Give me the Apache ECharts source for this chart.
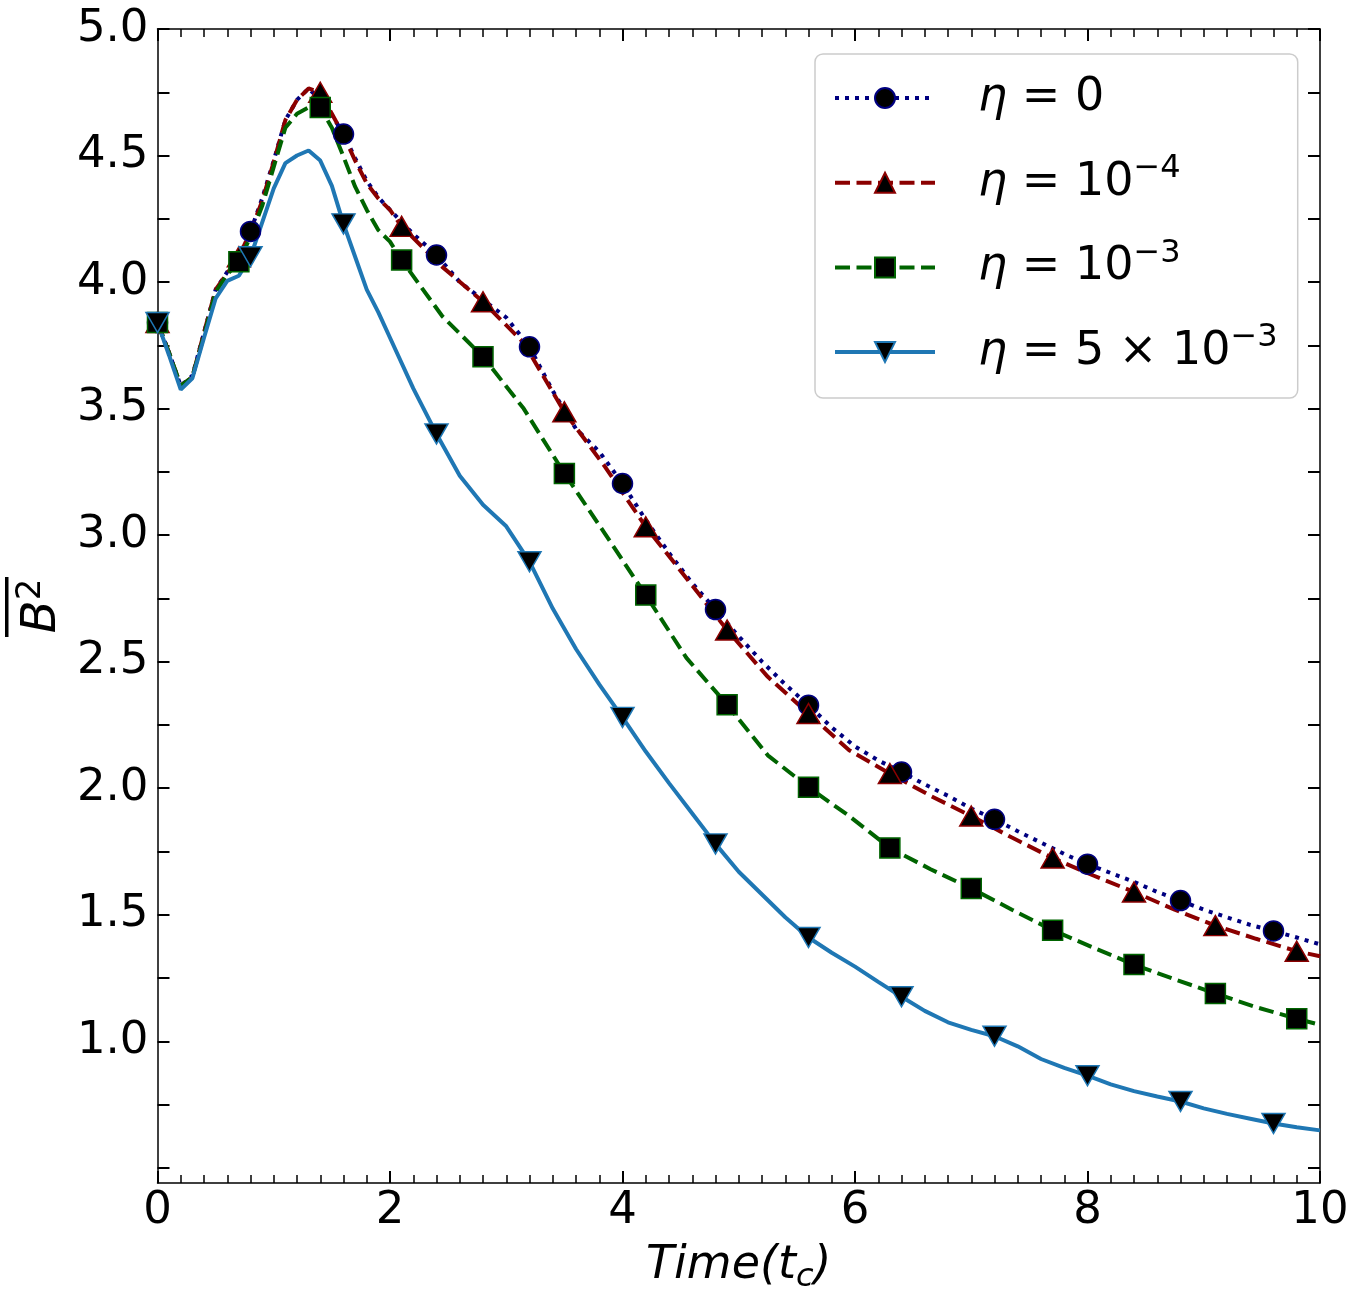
<!DOCTYPE html>
<html>
<head>
<meta charset="utf-8">
<script src="https://cdn.jsdelivr.net/npm/echarts@6/dist/echarts.min.js"></script>
<style>
  html, body { margin: 0; padding: 0; background: #fff; }
  #chart { width: 1360px; height: 1299px; }
</style>
</head>
<body>
<div id="chart"></div>
<script>
// sampling times (in t_c) - grid A for eta=0 and eta=5e-3, grid B for the other two
const timesA = [0, 0.1, 0.2, 0.3, 0.4, 0.5, 0.6, 0.7, 0.8, 0.9, 1.0, 1.1, 1.2, 1.3, 1.4, 1.5, 1.6, 1.7, 1.8, 1.9, 2.0,
  2.2, 2.4, 2.6, 2.8, 3.0, 3.2, 3.4, 3.6, 3.8, 4.0, 4.2, 4.4, 4.6, 4.8, 5.0, 5.2, 5.4, 5.6, 5.8, 6.0,
  6.2, 6.4, 6.6, 6.8, 7.0, 7.2, 7.4, 7.6, 7.8, 8.0, 8.2, 8.4, 8.6, 8.8, 9.0, 9.2, 9.4, 9.6, 9.8, 10.0];
const timesB = [0, 0.1, 0.2, 0.3, 0.4, 0.5, 0.6, 0.7, 0.8, 0.9, 1.0, 1.1, 1.2, 1.3, 1.4, 1.5, 1.6, 1.7, 1.8, 1.9, 2.0, 2.1,
  2.45, 2.8, 3.15, 3.5, 3.85, 4.2, 4.55, 4.9, 5.25, 5.6, 5.95, 6.3, 6.65, 7.0, 7.35, 7.7, 8.05, 8.4, 8.75, 9.1, 9.45, 9.8,
  10.0];

// times where a marker is drawn
const markersA = [0, 0.8, 1.6, 2.4, 3.2, 4.0, 4.8, 5.6, 6.4, 7.2, 8.0, 8.8, 9.6];
const markersB = [0, 0.7, 1.4, 2.1, 2.8, 3.5, 4.2, 4.9, 5.6, 6.3, 7.0, 7.7, 8.4, 9.1, 9.8];

// mean B^2
const eta0 = [3.84, 3.72, 3.59, 3.63, 3.80, 3.97, 4.04, 4.10, 4.20, 4.33, 4.48, 4.64, 4.72, 4.765, 4.72, 4.66, 4.585, 4.49, 4.40, 4.335, 4.285,
  4.19, 4.107, 4.00, 3.93, 3.86, 3.744, 3.57, 3.42, 3.33, 3.204, 3.06, 2.93, 2.81, 2.706, 2.60, 2.50, 2.41, 2.328, 2.24, 2.165,
  2.11, 2.064, 2.015, 1.97, 1.92, 1.877, 1.83, 1.785, 1.74, 1.70, 1.665, 1.63, 1.59, 1.556, 1.52, 1.49, 1.46, 1.436, 1.41, 1.383];
const eta1e4 = [3.84, 3.72, 3.59, 3.625, 3.80, 3.97, 4.035, 4.10, 4.20, 4.32, 4.475, 4.64, 4.72, 4.765, 4.75, 4.665, 4.58, 4.48, 4.39, 4.33, 4.285, 4.22,
  4.06, 3.922, 3.76, 3.487, 3.27, 3.033, 2.83, 2.625, 2.44, 2.295, 2.15, 2.058, 1.97, 1.89, 1.805, 1.724, 1.655, 1.59, 1.52, 1.457, 1.405, 1.356,
  1.336];
const eta1e3 = [3.84, 3.72, 3.59, 3.625, 3.79, 3.96, 4.03, 4.08, 4.18, 4.30, 4.455, 4.61, 4.665, 4.69, 4.69, 4.61, 4.495, 4.377, 4.285, 4.205, 4.16, 4.087,
  3.865, 3.705, 3.50, 3.244, 3.005, 2.763, 2.515, 2.33, 2.13, 2.004, 1.89, 1.764, 1.68, 1.604, 1.52, 1.439, 1.37, 1.303, 1.245, 1.189, 1.135, 1.089,
  1.065];
const eta5e3 = [3.84, 3.71, 3.575, 3.62, 3.78, 3.935, 4.005, 4.025, 4.10, 4.235, 4.37, 4.47, 4.50, 4.52, 4.48, 4.38, 4.23, 4.10, 3.97, 3.88, 3.78,
  3.58, 3.40, 3.235, 3.12, 3.035, 2.895, 2.71, 2.55, 2.41, 2.28, 2.145, 2.02, 1.90, 1.78, 1.67, 1.58, 1.49, 1.41, 1.35, 1.295,
  1.235, 1.176, 1.12, 1.075, 1.045, 1.02, 0.98, 0.93, 0.895, 0.864, 0.83, 0.803, 0.782, 0.762, 0.735, 0.713, 0.694, 0.675, 0.66, 0.648];

const seriesNames = ['η = 0', 'η = 10⁻⁴', 'η = 10⁻³', 'η = 5 × 10⁻³'];
const legendLabels = [
  '{g|}{i|η}{n| = 0}',
  '{g|}{i|η}{n| = 10}{s|−4}',
  '{g|}{i|η}{n| = 10}{s|−3}',
  '{g|}{i|η}{n| = 5 × 10}{s|−3}'
];

// y ticks and labels
const yTickValues = [0.5, 0.75, 1.0, 1.25, 1.5, 1.75, 2.0, 2.25, 2.5, 2.75, 3.0, 3.25, 3.5, 3.75, 4.0, 4.25, 4.5, 4.75, 5.0];
const yLabelValues = [1.0, 1.5, 2.0, 2.5, 3.0, 3.5, 4.0, 4.5, 5.0];

const FONT = 'DejaVu Sans';

function buildData(times, values, markers) {
  return times.map((t, i) => {
    const hasMarker = markers.some(m => Math.abs(m - t) < 1e-6);
    const item = { value: [t, values[i]] };
    if (!hasMarker) item.symbol = 'none';
    return item;
  });
}

const chart = echarts.init(document.getElementById('chart'));

const axisLineStyle = { color: '#000', width: 1.5 };
const tickStyle = { color: '#000', width: 2 };

const lineStyles = [
  { color: '#000080', width: 4, type: [4, 6], cap: 'butt' },
  { color: '#8b0000', width: 4, type: [15, 6.5], cap: 'butt' },
  { color: '#006400', width: 4, type: [15, 6.5], cap: 'butt' },
  { color: '#1f77b4', width: 4, type: 'solid' }
];

const xBase = {
  type: 'value', min: 0, max: 10, interval: 2,
  axisLine: { show: true, onZero: false, lineStyle: axisLineStyle },
  axisTick: { show: true, inside: true, length: 12, lineStyle: tickStyle },
  minorTick: { show: true, splitNumber: 10, length: 8, lineStyle: { color: '#000', width: 1.5 } },
  splitLine: { show: false },
  minorSplitLine: { show: false }
};
const yBase = {
  type: 'value', min: 0.44, max: 5.0,
  axisLine: { show: true, onZero: false, lineStyle: axisLineStyle },
  axisTick: { show: true, inside: true, length: 12, lineStyle: tickStyle, customValues: yTickValues },
  splitLine: { show: false }
};

const option = {
  animation: false,
  backgroundColor: '#fff',
  grid: { left: 157.5, right: 40, top: 29, bottom: 116 },
  xAxis: [
    Object.assign({}, xBase, {
      position: 'bottom',
      axisLabel: { fontFamily: FONT, fontSize: 45, color: '#000', margin: 6 },
      name: '{i|Time(t}{s|c}{i|)}',
      nameLocation: 'middle',
      nameGap: 55,
      nameTextStyle: {
        rich: {
          i: { fontFamily: FONT, fontStyle: 'italic', fontSize: 46, color: '#000', lineHeight: 56 },
          s: { fontFamily: FONT, fontStyle: 'italic', fontSize: 32, color: '#000', lineHeight: 50, verticalAlign: 'bottom' }
        }
      }
    }),
    Object.assign({}, xBase, { position: 'top', axisLabel: { show: false } })
  ],
  yAxis: [
    Object.assign({}, yBase, {
      position: 'left',
      axisLabel: {
        customValues: yLabelValues,
        formatter: v => v.toFixed(1),
        fontFamily: FONT, fontSize: 45, color: '#000', margin: 9
      },
      name: '{b|B}{s|2}',
      nameLocation: 'middle',
      nameRotate: 90,
      nameGap: 84,
      nameTextStyle: {
        rich: {
          b: { fontFamily: FONT, fontStyle: 'italic', fontSize: 48, color: '#000', lineHeight: 56 },
          s: { fontFamily: FONT, fontSize: 34, color: '#000', lineHeight: 36, verticalAlign: 'top' }
        }
      }
    }),
    Object.assign({}, yBase, { position: 'right', axisLabel: { show: false } })
  ],
  legend: {
    orient: 'vertical',
    left: 815, top: 54,
    padding: [21, 20, 23, 18],
    itemWidth: 100, itemHeight: 25, itemGap: 31.7,
    backgroundColor: 'rgba(255,255,255,0.8)',
    borderColor: '#cccccc', borderWidth: 1.5, borderRadius: 8,
    selectedMode: false,
    data: seriesNames.map((name, i) => ({ name: name, lineStyle: lineStyles[i] })),
    formatter: name => legendLabels[seriesNames.indexOf(name)],
    textStyle: {
      fontFamily: FONT, fontSize: 46, color: '#000',
      rich: {
        g: { width: 38, lineHeight: 60 },
        i: { fontFamily: FONT, fontStyle: 'italic', fontSize: 46, color: '#000', lineHeight: 60 },
        n: { fontFamily: FONT, fontSize: 46, color: '#000', lineHeight: 60 },
        s: { fontFamily: FONT, fontSize: 32, color: '#000', lineHeight: 34, verticalAlign: 'top' }
      }
    }
  },
  graphic: [
    // overline of the y axis label
    { type: 'rect', left: 5, top: 577, shape: { width: 3.5, height: 60 }, style: { fill: '#000' } }
  ],
  series: [
    {
      name: seriesNames[0], type: 'line', data: buildData(timesA, eta0, markersA),
      symbol: 'circle', symbolSize: 20,
      itemStyle: { color: '#000', borderColor: '#000080', borderWidth: 1.5 },
      lineStyle: lineStyles[0],
      emphasis: { disabled: true }
    },
    {
      name: seriesNames[1], type: 'line', data: buildData(timesB, eta1e4, markersB),
      symbol: 'triangle', symbolSize: [23, 20],
      itemStyle: { color: '#000', borderColor: '#8b0000', borderWidth: 1.5 },
      lineStyle: lineStyles[1],
      emphasis: { disabled: true }
    },
    {
      name: seriesNames[2], type: 'line', data: buildData(timesB, eta1e3, markersB),
      symbol: 'rect', symbolSize: 20,
      itemStyle: { color: '#000', borderColor: '#006400', borderWidth: 1.5 },
      lineStyle: lineStyles[2],
      emphasis: { disabled: true }
    },
    {
      name: seriesNames[3], type: 'line', data: buildData(timesA, eta5e3, markersA),
      symbol: 'triangle', symbolRotate: 180, symbolSize: [23, 20],
      itemStyle: { color: '#000', borderColor: '#1f77b4', borderWidth: 1.5 },
      lineStyle: lineStyles[3],
      emphasis: { disabled: true }
    }
  ]
};

chart.setOption(option);
</script>
</body>
</html>
